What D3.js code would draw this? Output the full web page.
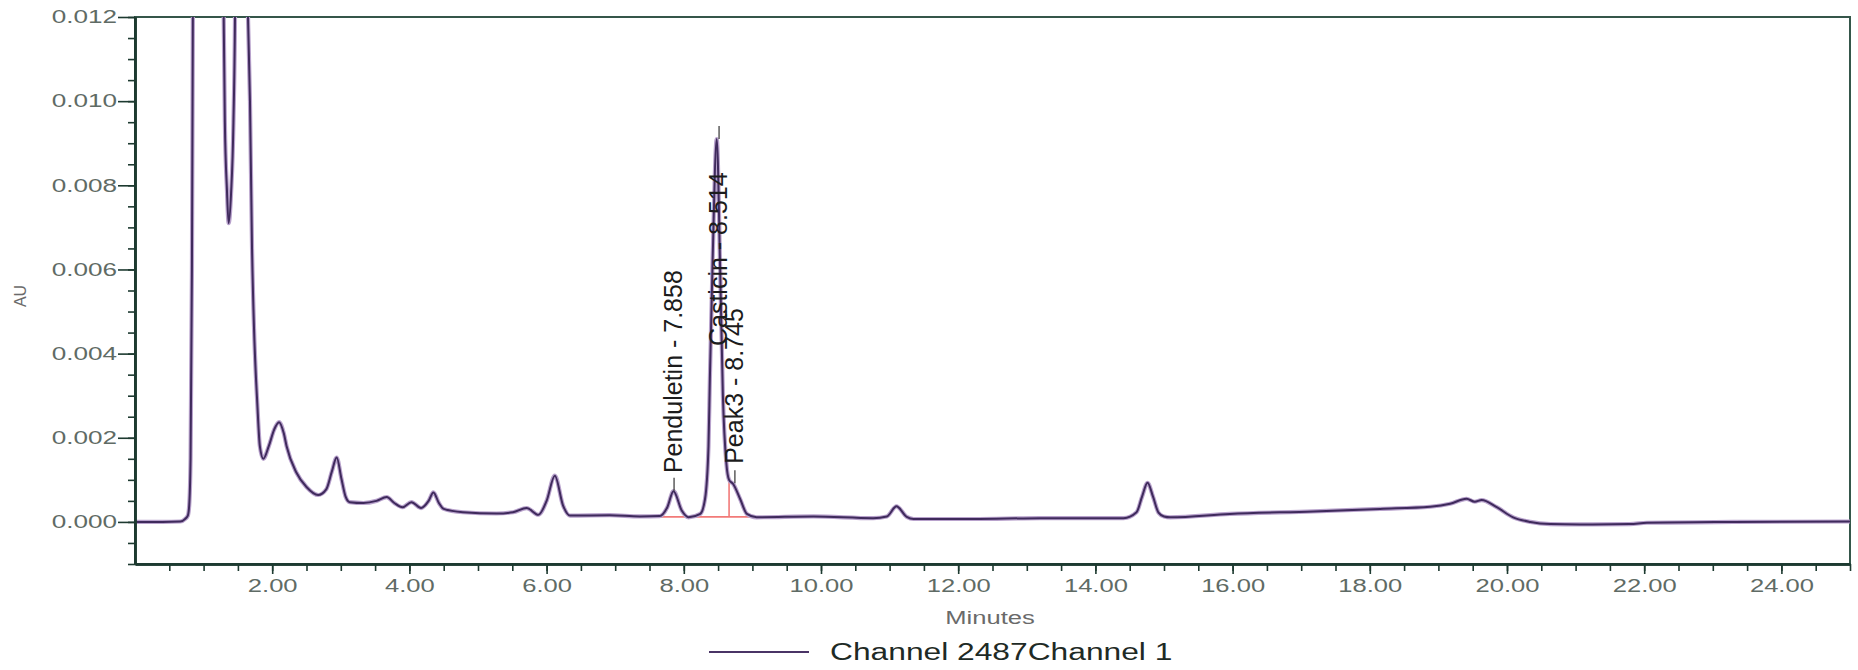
<!DOCTYPE html>
<html>
<head>
<meta charset="utf-8">
<script src="https://cdn.jsdelivr.net/npm/d3@7"></script>
<style>
body { margin: 0; background: #fff; }
svg { display: block; font-family: "Liberation Sans", Arial, sans-serif; }
</style>
</head>
<body>
<svg id="chrom-svg" width="1858" height="670"></svg>
<script>
// chromatogram trace (minutes, AU); values above 0.012 are off-scale guesses
const times = [0.00, 0.40, 0.66, 0.73, 0.77, 0.79, 0.81, 0.83, 0.85, 0.90, 1.05, 1.22, 1.29, 1.31, 1.34, 1.365,
    1.40, 1.435, 1.46, 1.50, 1.58, 1.63, 1.647, 1.676, 1.706, 1.735, 1.764, 1.78, 1.82, 1.87, 1.95, 2.03,
    2.10, 2.17, 2.21, 2.35, 2.50, 2.67, 2.79, 2.87, 2.94, 3.01, 3.07, 3.13, 3.33, 3.52, 3.67, 3.78,
    3.90, 4.03, 4.17, 4.28, 4.35, 4.43, 4.50, 4.78, 5.27, 5.51, 5.71, 5.88, 6.00, 6.12, 6.24, 6.34,
    6.92, 7.36, 7.65, 7.76, 7.85, 7.97, 8.07, 8.24, 8.31, 8.36, 8.38, 8.42, 8.48, 8.53, 8.57, 8.62,
    8.66, 8.72, 8.82, 8.92, 9.06, 9.89, 10.76, 10.96, 11.10, 11.25, 11.35, 12.22, 13.19, 14.41, 14.60, 14.68,
    14.76, 14.84, 14.92, 15.00, 15.09, 15.96, 17.18, 18.15, 18.88, 19.17, 19.41, 19.53, 19.63, 19.85, 20.09, 20.34,
    20.63, 21.06, 21.79, 22.04, 23.30, 25.00];
const absorbance = [0.00000, 0.00000, 0.00001, 0.00007, 0.00015, 0.00039, 0.0015, 0.0060, 0.0150, 0.0300, 0.0400, 0.0250, 0.0125, 0.0095, 0.0079, 0.0071,
    0.0078, 0.0095, 0.0125, 0.0300, 0.0250, 0.0135, 0.0120, 0.0100, 0.0065, 0.0046, 0.0034, 0.0029, 0.0018, 0.0015, 0.0018, 0.0022,
    0.00237, 0.0021, 0.0018, 0.00118, 0.00083, 0.00064, 0.00078, 0.0012, 0.00153, 0.00102, 0.0006, 0.00047, 0.00045, 0.0005, 0.00059, 0.00045,
    0.00035, 0.00047, 0.00033, 0.0005, 0.0007, 0.00045, 0.00031, 0.00023, 0.0002, 0.00023, 0.00033, 0.00017, 0.0005, 0.0011, 0.00039, 0.00015,
    0.00016, 0.00013, 0.00014, 0.00035, 0.00073, 0.00027, 0.00011, 0.00019, 0.00055, 0.0018, 0.0034, 0.0062, 0.0091, 0.0060, 0.0030, 0.0014,
    0.0010, 0.0009, 0.00055, 0.00019, 0.00011, 0.00013, 0.00009, 0.00013, 0.00037, 0.00012, 0.00007, 0.00007, 0.00009, 0.00009, 0.00023, 0.0006,
    0.00093, 0.0006, 0.00022, 0.00013, 0.00011, 0.00019, 0.00025, 0.00031, 0.00036, 0.00043, 0.00055, 0.00048, 0.00052, 0.00035, 0.00011, 0.0,
    -0.00005, -0.00006, -0.00005, -0.00002, 0.0, 0.00001];

// named peaks
const peakNames = ["Penduletin", "Casticin", "Peak3"];
const peakTimes = [7.858, 8.514, 8.745];
const peakApex = [0.00074, 0.0091, 0.00092];
const labelBase = [0.00116, 0.00418, 0.00138];

// integration baseline and drop line
const baselineTimes = [7.65, 8.97];
const baselineLevels = [0.00012, 0.00012];
const dropTimes = [8.66];

// axis ticks
const xMajorTicks = d3.range(2, 25, 2);
const xMinorTicks = d3.range(0.5, 25.01, 0.5);
const yMajorTicks = [0, 0.002, 0.004, 0.006, 0.008, 0.010, 0.012];
const yMinorTicks = d3.range(-0.001, 0.01201, 0.0005);

const legendLabel = "Channel 2487Channel 1";

function stretchText(sel, k) {
    sel.each(function() {
        const w = this.getComputedTextLength();
        d3.select(this).attr("textLength", w * k).attr("lengthAdjust", "spacingAndGlyphs");
    });
}

function interpAt(t) {
    const i = d3.bisectLeft(times, t);
    if (i <= 0) return absorbance[0];
    const t0 = times[i - 1], t1 = times[i];
    return absorbance[i - 1] + (absorbance[i] - absorbance[i - 1]) * (t - t0) / (t1 - t0);
}

function createChromatogram() {
    const size = {
        width: 1858,
        height: 670,
        margin: { top: 17, right: 8, bottom: 106, left: 135 }
    };
    const svg = d3.select('#chrom-svg');
    const axisColor = "#1d3a30";
    const labelColor = "#5f6b65";

    const x = d3.scaleLinear()
        .domain([0, 25])
        .range([size.margin.left, size.width - size.margin.right]);
    const y = d3.scaleLinear()
        .domain([-0.001, 0.012])
        .range([size.height - size.margin.bottom, size.margin.top]);

    const x0 = x.range()[0], x1 = x.range()[1];
    const y0 = y.range()[1], y1 = y.range()[0];

    svg.append("clipPath").attr("id", "plot-clip")
        .append("rect")
        .attr("x", x0).attr("y", y0)
        .attr("width", x1 - x0).attr("height", y1 - y0);

    // frame
    svg.append("rect")
        .attr("x", x0).attr("y", y0)
        .attr("width", x1 - x0).attr("height", y1 - y0)
        .attr("fill", "none")
        .attr("stroke", "#35564a")
        .attr("stroke-width", 2);

    const plot = svg.append("g").attr("clip-path", "url(#plot-clip)");

    // integration baseline (red)
    plot.append("line")
        .attr("x1", x(baselineTimes[0])).attr("y1", y(baselineLevels[0]))
        .attr("x2", x(baselineTimes[1])).attr("y2", y(baselineLevels[1]))
        .attr("stroke", "#f27a78").attr("stroke-width", 1.6);
    plot.selectAll(".drop")
        .data(dropTimes)
        .join("line")
        .attr("class", "drop")
        .attr("x1", d => x(d)).attr("x2", d => x(d))
        .attr("y1", y(baselineLevels[0]))
        .attr("y2", d => y(interpAt(d)))
        .attr("stroke", "#f27a78").attr("stroke-width", 1.6);

    const data = times.map((t, i) => ({ t: t, v: absorbance[i] }));
    const line = d3.line()
        .x(d => x(d.t))
        .y(d => y(d.v))
        .curve(d3.curveMonotoneX);

    plot.append("path")
        .datum(data)
        .attr("d", line)
        .attr("fill", "none")
        .attr("stroke", "#b8a2cc")
        .attr("stroke-width", 4.2)
        .attr("stroke-linejoin", "round");
    plot.append("path")
        .datum(data)
        .attr("d", line)
        .attr("fill", "none")
        .attr("stroke", "#3f2a5c")
        .attr("stroke-width", 2)
        .attr("stroke-linejoin", "round");

    // peak labels
    const labels = svg.append("g");
    peakNames.forEach((name, i) => {
        const px = x(peakTimes[i]);
        labels.append("line")
            .attr("x1", px).attr("x2", px)
            .attr("y1", y(peakApex[i]))
            .attr("y2", y(peakApex[i]) - 13)
            .attr("stroke", "#333").attr("stroke-width", 1.2);
        labels.append("text")
            .attr("transform", `translate(${px + 8}, ${y(labelBase[i])}) rotate(-90)`)
            .attr("font-size", 25)
            .attr("fill", "#1c1c1c")
            .text(name + " - " + peakTimes[i].toFixed(3));
    });

    // x axis
    const xMinor = svg.append("g")
        .attr("transform", `translate(0, ${y1})`)
        .call(d3.axisBottom(x).tickValues(xMinorTicks).tickSize(7).tickSizeOuter(0).tickFormat(""));
    const xMajor = svg.append("g")
        .attr("transform", `translate(0, ${y1})`)
        .call(d3.axisBottom(x).tickValues(xMajorTicks).tickSize(10).tickPadding(5).tickSizeOuter(0).tickFormat(d3.format(".2f")));
    xMajor.selectAll("text")
        .attr("font-size", 18)
        .attr("fill", labelColor)
        .call(stretchText, 1.42);

    // y axis
    const yMinor = svg.append("g")
        .attr("transform", `translate(${x0}, 0)`)
        .call(d3.axisLeft(y).tickValues(yMinorTicks).tickSize(7).tickSizeOuter(0).tickFormat(""));
    const yMajor = svg.append("g")
        .attr("transform", `translate(${x0}, 0)`)
        .call(d3.axisLeft(y).tickValues(yMajorTicks).tickSize(17).tickPadding(1).tickSizeOuter(0).tickFormat(d3.format(".3f")));
    yMajor.selectAll("text")
        .attr("font-size", 18)
        .attr("fill", labelColor)
        .call(stretchText, 1.45);

    [xMinor, xMajor, yMinor, yMajor].forEach(g => {
        g.selectAll("line").attr("stroke", axisColor).attr("stroke-width", 1.6);
        g.select(".domain").attr("stroke", axisColor).attr("stroke-width", 2.6);
    });

    // axis titles
    svg.append("text")
        .attr("x", 990)
        .attr("y", 624)
        .attr("text-anchor", "middle")
        .attr("font-size", 18)
        .attr("fill", "#6a6a6a")
        .text("Minutes")
        .call(stretchText, 1.42);

    svg.append("text")
        .attr("transform", "translate(26, 296) rotate(-90)")
        .attr("text-anchor", "middle")
        .attr("font-size", 16)
        .attr("fill", "#6a6a6a")
        .text("AU");

    // legend
    svg.append("line")
        .attr("x1", 709).attr("x2", 809)
        .attr("y1", 652).attr("y2", 652)
        .attr("stroke", "#4a3466").attr("stroke-width", 2);
    svg.append("text")
        .attr("x", 830)
        .attr("y", 660)
        .attr("font-size", 23)
        .attr("fill", "#1e2a25")
        .text(legendLabel)
        .call(stretchText, 1.38);
}

createChromatogram();
</script>
</body>
</html>
